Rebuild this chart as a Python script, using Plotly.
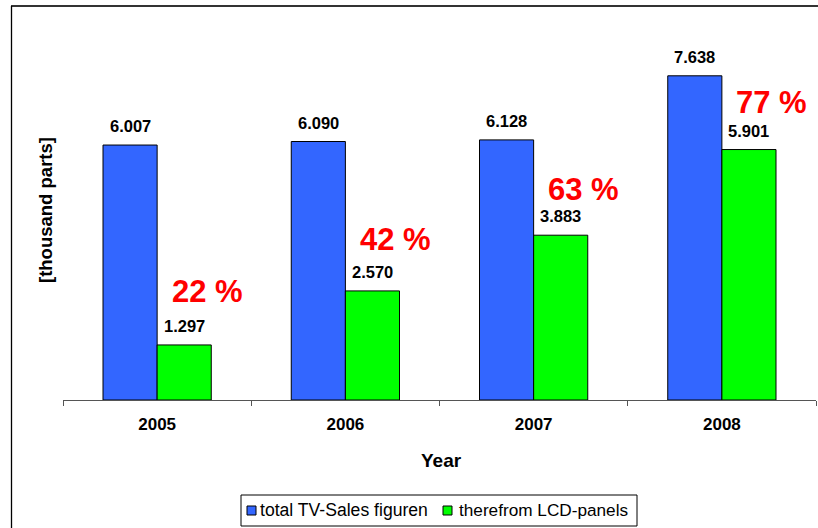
import plotly.graph_objects as go

years = ["2005", "2006", "2007", "2008"]
total_tv = [6007, 6090, 6128, 7638]
lcd = [1297, 2570, 3883, 5901]
total_labels = ["6.007", "6.090", "6.128", "7.638"]
lcd_labels = ["1.297", "2.570", "3.883", "5.901"]
share_labels = ["22 %", "42 %", "63 %", "77 %"]
share_y = [2546, 3772, 4950, 7001]
series_names = ["total TV-Sales figuren", "therefrom LCD-panels"]

FONT = "Liberation Sans, Arial, sans-serif"
BLUE = "#3366FF"
GREEN = "#00FF00"
L, R, T, B = 63, 2, 18, 128
W, H = 818, 528
PW, PH = W - L - R, H - T - B


def px(xp):
    return (xp - L) / PW


def py(yp):
    return (H - B - yp) / PH


fig = go.Figure()
fig.add_trace(go.Bar(x=years, y=total_tv, name=series_names[0],
                     marker=dict(color=BLUE, line=dict(color="black", width=1))))
fig.add_trace(go.Bar(x=years, y=lcd, name=series_names[1],
                     marker=dict(color=GREEN, line=dict(color="black", width=1))))

off = 0.14375
ann = []
for i in range(len(years)):
    ann.append(dict(x=i - off, y=total_tv[i], xref="x", yref="y", text="<b>%s</b>" % total_labels[i],
                    showarrow=False, yanchor="bottom", yshift=8,
                    font=dict(family=FONT, size=16.5, color="black")))
    ann.append(dict(x=i + off, y=lcd[i], xref="x", yref="y", text="<b>%s</b>" % lcd_labels[i],
                    showarrow=False, yanchor="bottom", yshift=8,
                    font=dict(family=FONT, size=16.5, color="black")))
    ann.append(dict(x=i + 0.265, y=share_y[i], xref="x", yref="y", text="<b>%s</b>" % share_labels[i],
                    showarrow=False, yanchor="middle",
                    font=dict(family=FONT, size=31, color="#FF0000")))

# axis titles
ann.append(dict(x=px(441), y=py(460), xref="paper", yref="paper", text="<b>Year</b>",
                showarrow=False, xanchor="center", yanchor="middle",
                font=dict(family=FONT, size=19, color="black")))
ann.append(dict(x=px(45), y=py(210), xref="paper", yref="paper", text="<b>[thousand parts]</b>",
                showarrow=False, xanchor="center", yanchor="middle", textangle=-90,
                font=dict(family=FONT, size=18.5, color="black")))

# custom legend
ann.append(dict(x=px(258), y=py(510), xref="paper", yref="paper", text=series_names[0],
                showarrow=False, xanchor="left", yanchor="middle",
                font=dict(family=FONT, size=17.6, color="black")))
ann.append(dict(x=px(457), y=py(510), xref="paper", yref="paper", text=series_names[1],
                showarrow=False, xanchor="left", yanchor="middle",
                font=dict(family=FONT, size=17.2, color="black")))

shapes = [
    dict(type="line", xref="paper", yref="paper",
         x0=px(11), x1=px(830), y0=py(6), y1=py(6),
         line=dict(color="#333333", width=2), layer="below"),
    dict(type="line", xref="paper", yref="paper",
         x0=px(11.5), x1=px(11.5), y0=py(6), y1=py(540),
         line=dict(color="black", width=1.3), layer="below"),
    dict(type="rect", xref="paper", yref="paper",
         x0=px(241), x1=px(637), y0=py(526), y1=py(495),
         line=dict(color="black", width=1), fillcolor="white", layer="below"),
    dict(type="rect", xref="paper", yref="paper",
         x0=px(247), x1=px(256), y0=py(515), y1=py(506),
         line=dict(color="black", width=1), fillcolor=BLUE),
    dict(type="rect", xref="paper", yref="paper",
         x0=px(443), x1=px(452), y0=py(515), y1=py(506),
         line=dict(color="black", width=1), fillcolor=GREEN),
]

fig.update_layout(
    width=W, height=H,
    margin=dict(l=L, r=R, t=T, b=B, autoexpand=False),
    paper_bgcolor="white", plot_bgcolor="white",
    barmode="group", bargap=0.425, bargroupgap=0,
    font=dict(family=FONT, size=14, color="black"),
    showlegend=False,
    annotations=ann,
    shapes=shapes,
)
fig.update_xaxes(type="category", range=[-0.5, 3.5], showline=True, linecolor="#555555", linewidth=1,
                 ticks="outside", ticklen=5, tickcolor="#555555", tickson="boundaries",
                 tickfont=dict(family=FONT, size=17, color="black"),
                 tickvals=years, ticktext=["<b>%s</b>" % y for y in years],
                 ticklabelstandoff=9, automargin=False,
                 showgrid=False, zeroline=False)
fig.update_yaxes(range=[0, 9000], showticklabels=False, showgrid=False, zeroline=False, showline=False,
                 automargin=False)

fig.write_html("out.html", config={"displayModeBar": False},
               post_script="document.body.style.margin='0';document.body.style.overflow='hidden';")
